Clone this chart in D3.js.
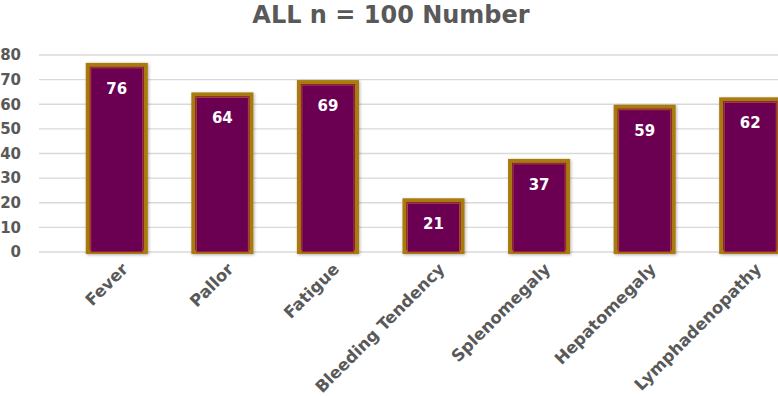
<!DOCTYPE html>
<html>
<head>
<meta charset="utf-8">
<script src="https://cdn.jsdelivr.net/npm/d3@7"></script>
<style>
  body { margin: 0; background: #fff; }
  text { font-family: "DejaVu Sans", sans-serif; font-weight: bold; }
</style>
</head>
<body>
<div id="chart"></div>
<script>
var categories = ["Fever", "Pallor", "Fatigue", "Bleeding Tendency", "Splenomegaly", "Hepatomegaly", "Lymphadenopathy"];
var values = [76, 64, 69, 21, 37, 59, 62];
var yTicks = [0, 10, 20, 30, 40, 50, 60, 70, 80];

var W = 778, H = 396;

var x = d3.scaleBand()
    .domain(categories)
    .range([64, 803])
    .paddingInner(0.45)
    .paddingOuter(0.225);

var y = d3.scaleLinear()
    .domain([0, 80])
    .range([252, 55]);

var svg = d3.select("#chart").append("svg")
    .attr("width", W)
    .attr("height", H);

// title
svg.append("text")
    .attr("x", 391)
    .attr("y", 23)
    .attr("text-anchor", "middle")
    .style("font-family", "'DejaVu Sans', sans-serif")
    .style("font-size", "24px")
    .style("fill", "#595959")
    .text("ALL n = 100 Number");

// gridlines
svg.append("g")
  .selectAll("line")
    .data(yTicks)
  .enter().append("line")
    .attr("x1", 39)
    .attr("x2", W)
    .attr("y1", function(d) { return y(d); })
    .attr("y2", function(d) { return y(d); })
    .style("stroke", "#d9d9d9")
    .style("stroke-width", 1.3);

// y axis labels
var yAxis = d3.axisLeft(y).tickValues(yTicks).tickSize(0).tickPadding(0);
var ya = svg.append("g")
    .attr("transform", "translate(21,0)")
    .call(yAxis);
ya.select(".domain").remove();
ya.selectAll("text")
    .style("font-family", "'DejaVu Sans', sans-serif")
    .style("font-size", "15px")
    .style("fill", "#595959");

// shadow filter
var defs = svg.append("defs");
var f = defs.append("filter").attr("id", "sh").attr("x", "-20%").attr("y", "-20%").attr("width", "140%").attr("height", "140%");
f.append("feDropShadow").attr("dx", 1).attr("dy", 1).attr("stdDeviation", 1.5).attr("flood-color", "#000").attr("flood-opacity", 0.3);

var bars = svg.append("g").selectAll(".bar")
    .data(values)
  .enter().append("g")
    .attr("class", "bar");

// outer gold frame
bars.append("rect")
    .attr("x", function(d, i) { return x(categories[i]); })
    .attr("width", x.bandwidth())
    .attr("y", function(d) { return y(d); })
    .attr("height", function(d) { return y(0) - y(d); })
    .style("fill", "#6b0053")
    .style("stroke", "#a97a0c")
    .style("stroke-width", 4)
    .attr("filter", "url(#sh)");

// inner thin line
bars.append("rect")
    .attr("x", function(d, i) { return x(categories[i]) + 3; })
    .attr("width", x.bandwidth() - 6)
    .attr("y", function(d) { return y(d) + 3; })
    .attr("height", function(d) { return y(0) - y(d) - 3; })
    .style("fill", "#6b0053")
    .style("stroke", "#b0452e")
    .style("stroke-width", 1);

// value labels
bars.append("text")
    .attr("x", function(d, i) { return x(categories[i]) + x.bandwidth() / 2; })
    .attr("y", function(d) { return y(d) + 29; })
    .attr("text-anchor", "middle")
    .style("font-size", "15px")
    .style("fill", "#ffffff")
    .text(function(d) { return d; });

// x axis labels
var xAxis = d3.axisBottom(x).tickSize(0).tickPadding(0);
var xa = svg.append("g")
    .attr("transform", "translate(0,262)")
    .call(xAxis);
xa.select(".domain").remove();
xa.selectAll("text")
    .style("font-family", "'DejaVu Sans', sans-serif")
    .style("font-size", "16.5px")
    .style("fill", "#595959")
    .attr("text-anchor", "end")
    .attr("dy", "0.7em")
    .attr("transform", "translate(4,0) rotate(-45)");
</script>
</body>
</html>
